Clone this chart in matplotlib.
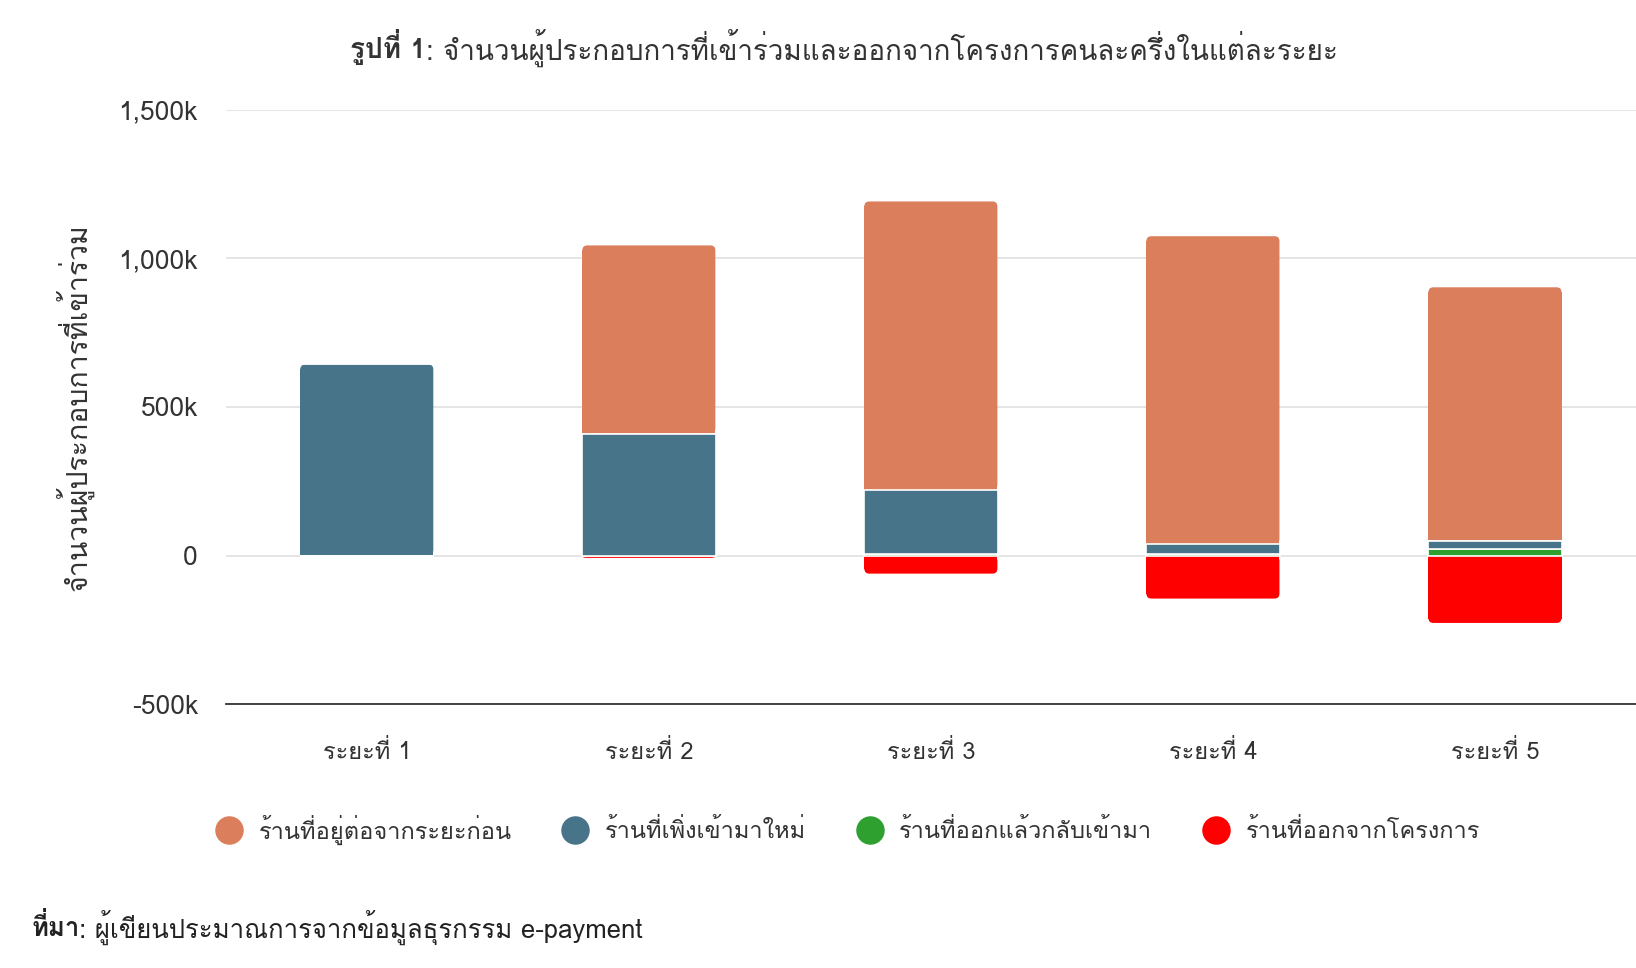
import matplotlib
matplotlib.use("Agg")
import matplotlib.pyplot as plt
import numpy as np
from matplotlib.lines import Line2D
from matplotlib.patches import FancyBboxPatch, Rectangle
from matplotlib.ticker import FuncFormatter

# Data (thousands of merchants)
periods = ['ระยะที่ 1', 'ระยะที่ 2', 'ระยะที่ 3', 'ระยะที่ 4', 'ระยะที่ 5']
stayed = [0, 637, 974, 1039, 856]      # ร้านที่อยู่ต่อจากระยะก่อน
new = [645, 409, 216, 33, 27]          # ร้านที่เพิ่งเข้ามาใหม่
returned = [0, 0, 4, 5, 22]            # ร้านที่ออกแล้วกลับเข้ามา
left = [0, -10, -63, -147, -229]       # ร้านที่ออกจากโครงการ
series_names = ['ร้านที่อยู่ต่อจากระยะก่อน', 'ร้านที่เพิ่งเข้ามาใหม่',
                'ร้านที่ออกแล้วกลับเข้ามา', 'ร้านที่ออกจากโครงการ']
yticks = [-500, 0, 500, 1000, 1500]

c_orange = '#DA7E5B'
c_blue = '#487489'
c_green = '#2DA02F'
c_red = '#FF0000'
txt = '#333333'

# Loma places Thai tone marks above upper vowels without shaping
plt.rcParams['font.family'] = ['Loma', 'DejaVu Sans']

fig = plt.figure(figsize=(16.36, 9.68), dpi=100)
ax = fig.add_axes([0.138, 0.2727, 0.862, 0.6137])
ax.set_xlim(-0.5, 4.5)
ax.set_ylim(-500, 1500)

x = np.arange(len(periods))
w = 0.476
kw = dict(width=w, edgecolor='white', linewidth=1.2, zorder=3)
returned_a = np.array(returned)
new_a = np.array(new)
b_green = ax.bar(x, returned, color=c_green, **kw)
b_blue = ax.bar(x, new, bottom=returned_a, color=c_blue, **kw)
b_orange = ax.bar(x, stayed, bottom=returned_a + new_a, color=c_orange, **kw)
b_red = ax.bar(x, left, color=c_red, **kw)

# rounded outer corners on the end segments
px_x = 1636 * 0.862 / 5.0
px_y = 968 * 0.6137 / 2000.0
rad = 5


def round_end(patch, top):
    x0, y0 = patch.get_x(), patch.get_y()
    ww, hh = patch.get_width(), patch.get_height()
    if hh == 0:
        return
    if hh < 0:
        y0, hh = y0 + hh, -hh
    ry = min(rad / px_y, hh / 2)
    rx = rad / px_x
    patch.set_visible(False)
    fc = patch.get_facecolor()
    inset_x = 0.6 / px_x
    inset_y = 0.6 / px_y
    fb = FancyBboxPatch((x0 + inset_x, y0 + inset_y), ww - 2 * inset_x, hh - 2 * inset_y,
                        boxstyle=f'round,pad=0,rounding_size={rx}',
                        mutation_aspect=ry / rx, facecolor=fc, edgecolor='none', zorder=2.9)
    ax.add_patch(fb)
    # square off the inner corners
    if top:
        sq = Rectangle((x0 + inset_x, y0 + inset_y), ww - 2 * inset_x, hh - ry - inset_y,
                       facecolor=fc, edgecolor='none', zorder=2.9)
    else:
        sq = Rectangle((x0 + inset_x, y0 + ry), ww - 2 * inset_x, hh - ry - inset_y,
                       facecolor=fc, edgecolor='none', zorder=2.9)
    ax.add_patch(sq)


for i in range(len(periods)):
    top_patch = b_orange[i] if stayed[i] > 0 else b_blue[i]
    round_end(top_patch, True)
    if left[i] < 0:
        round_end(b_red[i], False)

ax.set_yticks(yticks)
ax.yaxis.set_major_formatter(FuncFormatter(lambda v, p: '0' if v == 0 else f'{int(v):,}k'))
ax.set_xticks(x)
ax.set_xticklabels(periods)
ax.tick_params(axis='x', length=0, labelsize=17, colors=txt, pad=26)
ax.tick_params(axis='y', length=0, labelsize=19, colors=txt, pad=20)
ax.grid(axis='y', color='#E3E3E3', linewidth=1.3, zorder=0)
for s in ['top', 'right', 'left']:
    ax.spines[s].set_visible(False)
ax.spines['bottom'].set_color(txt)
ax.spines['bottom'].set_linewidth(1.3)

ax.set_ylabel('จำนวนผู้ประกอบการที่เข้าร่วม', fontsize=20.5, color=txt, labelpad=18)

handles = [Line2D([], [], marker='o', linestyle='none', markersize=19.5, color=c)
           for c in [c_orange, c_blue, c_green, c_red]]
fig.legend(handles, series_names, loc='center', bbox_to_anchor=(0.515, 0.143), ncol=4,
           frameon=False, fontsize=17, handletextpad=0.25, columnspacing=1.7,
           labelcolor=txt)

# title and source: bold lead-in followed by regular text
renderer = fig.canvas.get_renderer()


def two_part(x, y, bold, rest, size, color, center=False):
    t1 = fig.text(x, y, bold, fontsize=size, fontweight='bold', color=color, va='center')
    t2 = fig.text(x, y, rest, fontsize=size, color=color, va='center')
    w1 = t1.get_window_extent(renderer).width / fig.bbox.width
    w2 = t2.get_window_extent(renderer).width / fig.bbox.width
    if center:
        x = x - (w1 + w2) / 2
        t1.set_x(x)
    t2.set_x(x + w1)


two_part(0.516, 0.951, 'รูปที่ 1', ': จำนวนผู้ประกอบการที่เข้าร่วมและออกจากโครงการคนละครึ่งในแต่ละระยะ',
         20, txt, center=True)
two_part(0.019, 0.042, 'ที่มา', ': ผู้เขียนประมาณการจากข้อมูลธุรกรรม e-payment', 18.5, '#222222')

fig.savefig('out.png', dpi=100)
